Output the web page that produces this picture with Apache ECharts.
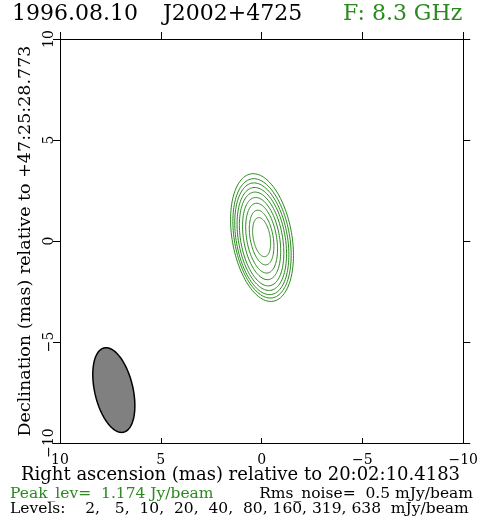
<!DOCTYPE html>
<html>
<head>
<meta charset="utf-8">
<script src="https://cdn.jsdelivr.net/npm/echarts@6/dist/echarts.min.js"></script>
<style>
html,body{margin:0;padding:0;background:#fff;}
#chart{width:481px;height:519px;}
</style>
</head>
<body>
<div id="chart"></div>
<script>
// ---- data (mas) ----
const xTicks = [10, 5, 0, -5, -10];
const yTicks = [-10, -5, 0, 5, 10];
const levels = [2, 5, 10, 20, 40, 80, 160, 319, 638]; // mJy/beam
// contour ellipses read from the map (outermost -> innermost)
const contourCx = [-0.02, -0.02, -0.01, -0.01, 0.0, 0.0, 0.0, 0.0, 0.0];
const contourCy = [0.17, 0.13, 0.11, 0.10, 0.10, 0.12, 0.14, 0.17, 0.19];
const contourMajor = [3.20, 2.99, 2.80, 2.58, 2.35, 2.06, 1.75, 1.37, 0.98];
const contourMinor = [1.48, 1.37, 1.27, 1.16, 1.04, 0.89, 0.74, 0.57, 0.42];
const contourPA = [10, 10, 10, 10, 10, 10, 10, 10, 10];
// restoring beam
const beamCx = [7.33];
const beamCy = [-7.38];
const beamMajor = [2.14];
const beamMinor = [0.95];
const beamPA = [13];

const GREEN = '#2a8a1e';
const FONT = 'DejaVu Serif';

function ellipsePoints(api, cx, cy, a, b, pa) {
  const r = pa * Math.PI / 180;
  const pts = [];
  for (let i = 0; i < 120; i++) {
    const t = i / 120 * Math.PI * 2;
    const u = a * Math.cos(t), v = b * Math.sin(t);
    const x = cx + u * Math.sin(r) + v * Math.cos(r);
    const y = cy + u * Math.cos(r) - v * Math.sin(r);
    pts.push(api.coord([x, y]));
  }
  return pts;
}

const contourData = levels.map((l, i) => [contourCx[i], contourCy[i], contourMajor[i], contourMinor[i], contourPA[i], l]);
const beamData = beamCx.map((c, i) => [c, beamCy[i], beamMajor[i], beamMinor[i], beamPA[i]]);

const fmt = v => (v < 0 ? '\u2212' + (-v) : '' + v);
const levelsText = 'Levels: ' + levels.map(v => ' ' + String(v).padStart(3)).join(',') + '  mJy/beam';

const chart = echarts.init(document.getElementById('chart'), null, {renderer: 'canvas'});
chart.setOption({
  animation: false,
  backgroundColor: '#fff',
  grid: {left: 60, right: 16, top: 39, bottom: 76, containLabel: false},
  xAxis: [
    {type: 'value', min: -10, max: 10, interval: 5, inverse: true, position: 'bottom',
     axisLine: {show: true, onZero: false, lineStyle: {color: '#000', width: 1}},
     axisTick: {show: true, inside: true, length: 5, lineStyle: {color: '#000'}},
     axisLabel: {show: true, formatter: fmt, fontFamily: FONT, fontSize: 14, color: '#000', margin: 10},
     splitLine: {show: false}},
    {type: 'value', min: -10, max: 10, interval: 5, inverse: true, position: 'top',
     axisLine: {show: true, onZero: false, lineStyle: {color: '#000', width: 1}},
     axisTick: {show: true, inside: false, length: 7, lineStyle: {color: '#000'}},
     axisLabel: {show: false}, splitLine: {show: false}}
  ],
  yAxis: [
    {type: 'value', min: -10, max: 10, interval: 5, position: 'left',
     name: 'Declination (mas) relative to +47:25:28.773', nameLocation: 'middle', nameGap: 25,
     nameRotate: 90, nameTextStyle: {fontFamily: FONT, fontSize: 17.5, color: '#000'},
     axisLine: {show: true, onZero: false, lineStyle: {color: '#000', width: 1}},
     axisTick: {show: true, inside: false, length: 7, lineStyle: {color: '#000'}},
     axisLabel: {show: true, rotate: 90, formatter: fmt, fontFamily: FONT, fontSize: 14, color: '#000', margin: 4},
     splitLine: {show: false}},
    {type: 'value', min: -10, max: 10, interval: 5, position: 'right',
     axisLine: {show: true, onZero: false, lineStyle: {color: '#000', width: 1}},
     axisTick: {show: true, inside: false, length: 7, lineStyle: {color: '#000'}},
     axisLabel: {show: false}, splitLine: {show: false}}
  ],
  series: [
    {type: 'custom', xAxisIndex: 0, yAxisIndex: 0, data: contourData, silent: true,
     renderItem: (params, api) => ({
       type: 'polygon',
       shape: {points: ellipsePoints(api, api.value(0), api.value(1), api.value(2), api.value(3), api.value(4))},
       style: {fill: 'none', stroke: GREEN, lineWidth: 1}
     })},
    {type: 'custom', xAxisIndex: 0, yAxisIndex: 0, data: beamData, silent: true,
     renderItem: (params, api) => ({
       type: 'polygon',
       shape: {points: ellipsePoints(api, api.value(0), api.value(1), api.value(2), api.value(3), api.value(4))},
       style: {fill: '#808080', stroke: '#000', lineWidth: 1.5}
     })}
  ],
  graphic: [
    {type: 'text', left: 12, top: 3, style: {text: '1996.08.10', font: '22px "DejaVu Serif"', fill: '#000'}},
    {type: 'text', left: 163, top: 3, style: {text: 'J2002+4725', font: '22px "DejaVu Serif"', fill: '#000'}},
    {type: 'text', left: 343, top: 3, style: {text: 'F: 8.3 GHz', font: '22px "DejaVu Serif"', fill: GREEN}},
    {type: 'text', left: 21, top: 466, style: {text: 'Right ascension (mas) relative to 20:02:10.4183', font: '18px "DejaVu Serif"', fill: '#000'}},
    {type: 'text', left: 10, top: 486, style: {text: 'Peak_lev=  1.174 Jy/beam', font: '15.5px "DejaVu Serif"', fill: GREEN}},
    {type: 'text', right: 8, top: 486, style: {text: 'Rms_noise=  0.5 mJy/beam', font: '15.5px "DejaVu Serif"', fill: '#000'}},
    {type: 'text', left: 10, top: 501, style: {text: levelsText, font: '15.5px "DejaVu Serif"', fill: '#000'}}
  ]
});
</script>
</body>
</html>
